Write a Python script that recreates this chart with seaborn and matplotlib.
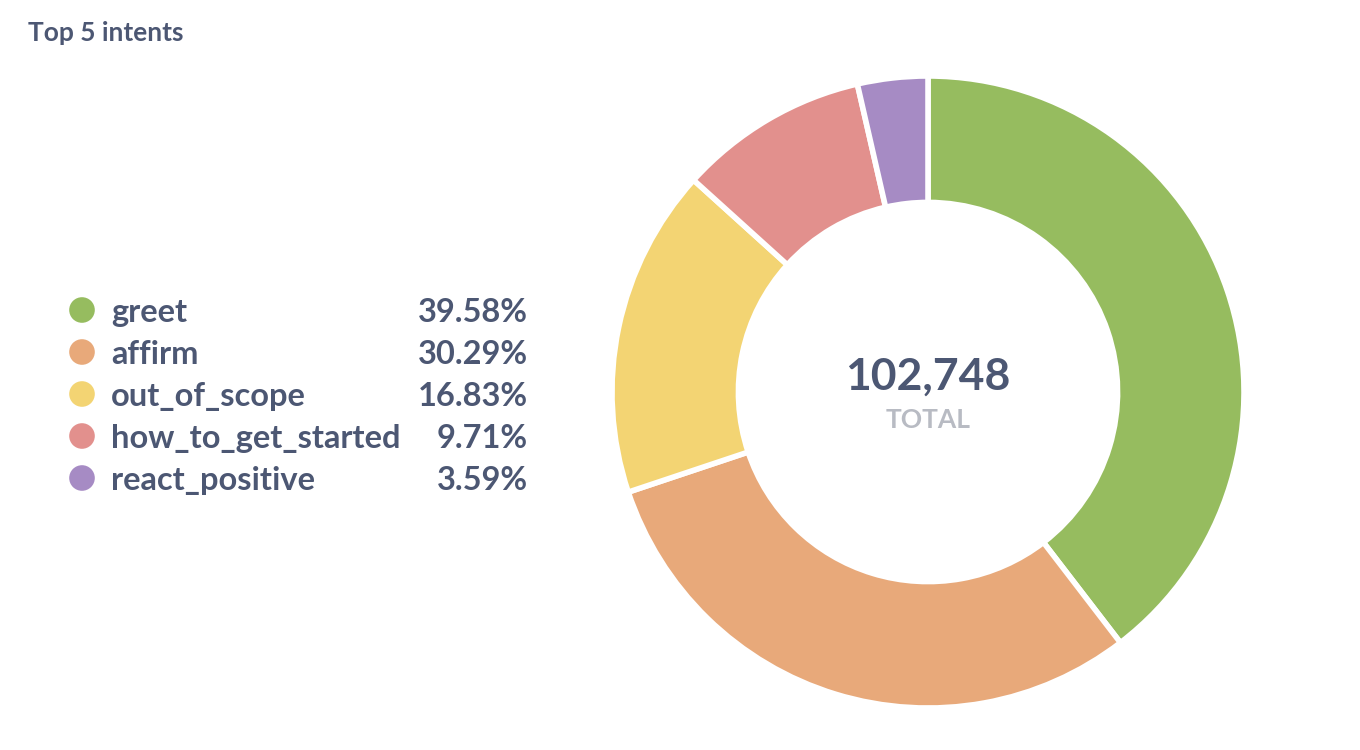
import matplotlib
matplotlib.use("Agg")
import matplotlib.pyplot as plt
import seaborn as sns
import numpy as np

# data
intents = ["greet", "affirm", "out_of_scope", "how_to_get_started", "react_positive"]
counts = [40668, 31122, 17293, 9977, 3688]
colors = ["#96BC5F", "#E8A97A", "#F3D473", "#E2908D", "#A68BC4"]
title = "Top 5 intents"

sns.set_theme(style="white")
plt.rcParams['font.family'] = ['Lato', 'DejaVu Sans']

dark = "#4C5773"
total = sum(counts)
pcts = [c / total * 100 for c in counts]

W, H = 1360, 750
fig = plt.figure(figsize=(W / 100, H / 100), dpi=100)
fig.patch.set_facecolor("white")

# donut
cx, cy, r = 928, 392, 316
ax = fig.add_axes([(cx - r) / W, (H - cy - r) / H, 2 * r / W, 2 * r / H])
ax.pie(counts, colors=colors, startangle=90, counterclock=False, radius=1,
       wedgeprops=dict(width=0.4, edgecolor="white", linewidth=4))
ax.set_xlim(-1, 1)
ax.set_ylim(-1, 1)
ax.set_aspect("equal")
ax.axis("off")
ax.text(0, 0.05, f"{total:,}", ha="center", va="center", fontsize=32,
        fontweight="bold", color=dark)
ax.text(0, -0.09, "TOTAL", ha="center", va="center", fontsize=19,
        fontweight="bold", color="#B8BBC3")

# legend in pixel space
lg = fig.add_axes([0, 0, 1, 1])
lg.set_xlim(0, W)
lg.set_ylim(H, 0)
lg.axis("off")
lg.patch.set_alpha(0)
ys = [310 + 42 * i for i in range(len(intents))]
sns.scatterplot(x=[82] * len(intents), y=ys, hue=intents, palette=colors,
                s=340, linewidth=0, legend=False, ax=lg)
for y, name, p in zip(ys, intents, pcts):
    lg.text(111, y, name, ha="left", va="center_baseline", fontsize=23.5,
            fontweight="bold", color=dark)
    lg.text(528, y, f"{p:.2f}%", ha="right", va="center_baseline", fontsize=23.5,
            fontweight="bold", color=dark)

lg.text(28, 31, title, ha="left", va="center_baseline", fontsize=19,
        fontweight="bold", color=dark)

fig.savefig("out.png", dpi=100)
